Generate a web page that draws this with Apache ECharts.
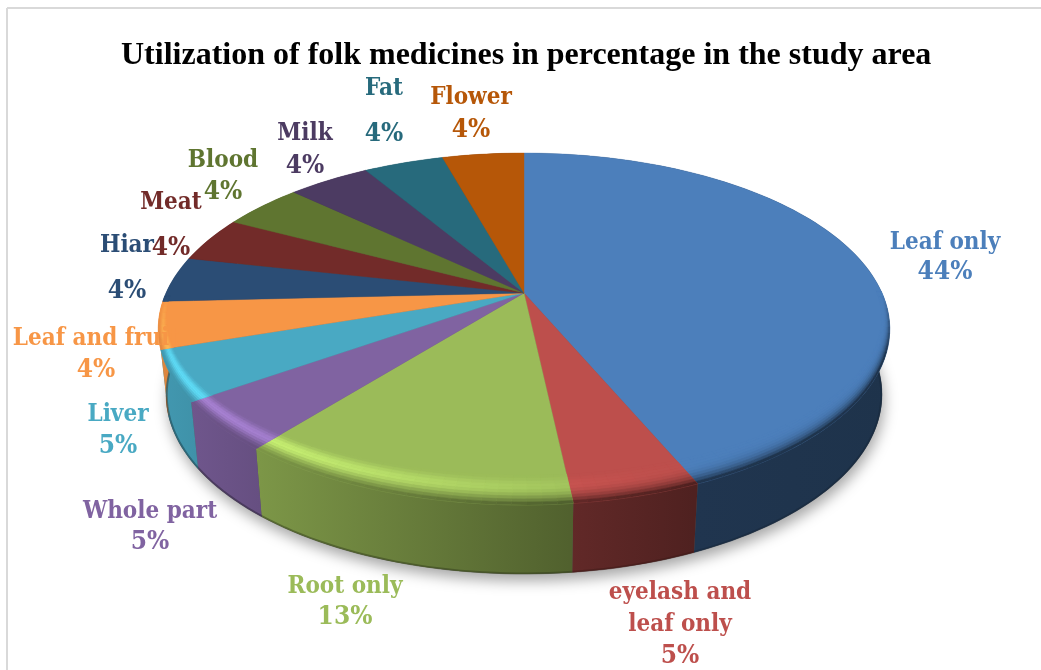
<!DOCTYPE html>
<html>
<head>
<meta charset="utf-8">
<title>Utilization of folk medicines</title>
<style>
html,body{margin:0;padding:0;background:#fff;}
#chart{width:1041px;height:670px;}
</style>
<script src="https://cdn.jsdelivr.net/npm/echarts@6/dist/echarts.min.js"></script>
</head>
<body>
<div id="chart"></div>
<script>
// values, the labels show them rounded
var categories = ['Leaf only','eyelash and\nleaf only','Root only','Whole part','Liver','Leaf and fruit','Hiar','Meat','Blood','Milk','Fat','Flower'];
var values = [43.6, 4.7, 12.6, 4.5, 4.6, 4.3, 4.2, 4.2, 4.3, 4.4, 4.3, 4.4];
var colors = ['#4c7fbb','#bd4f4c','#9bbb59','#8063a1','#49a9c3','#f79646','#2b4d75','#722b29','#5f7530','#4c3b62','#276a7c','#b65708'];

// where the source placed each data label: [x, name y, percent y]
var labelPos = [
    [945,243,272],[680,609,656],[345,587,617],[150,512,542],[118,415,446],[96,339,370],
    [127,246,291],[171,203,248],[223,161,192],[305,134,166],[384,89,134],[471,98,130]
];

var chart = echarts.init(document.getElementById('chart'));

// perspective of the disc: top face and (lower, a bit tighter) bottom face
var topFace = {cx:524, cy:293, a:168.6, b:358, p:0.2045};
var botFace = {cx:524, cy:357.8, a:172, b:350.5, p:0.2045};

var total = 0;
var starts = [];
for (var i = 0; i < values.length; i++) {
    starts.push(total);
    total += values[i];
}
function startDeg(i){ return starts[i] / total * 360; }
function endDeg(i){ return (starts[i] + values[i]) / total * 360; }

// deg is clockwise from the back of the disc
function project(face, deg, r){
    var t = deg * Math.PI / 180;
    var x = r * Math.sin(t), y = r * Math.cos(t);
    var d = 1 + face.p * y;
    return [face.cx + face.b * x / d, face.cy - face.a * y / d];
}
function arc(face, from, to, r){
    var pts = [];
    var n = Math.max(2, Math.ceil((to - from) / 1.5));
    for (var k = 0; k <= n; k++) {
        pts.push(project(face, from + (to - from) * k / n, r));
    }
    return pts;
}
function rgb(hex){
    return [parseInt(hex.substr(1,2),16), parseInt(hex.substr(3,2),16), parseInt(hex.substr(5,2),16)];
}
function mix(c, other, t){
    return [c[0]+(other[0]-c[0])*t, c[1]+(other[1]-c[1])*t, c[2]+(other[2]-c[2])*t];
}
function css(c){
    return 'rgb(' + Math.round(c[0]) + ',' + Math.round(c[1]) + ',' + Math.round(c[2]) + ')';
}
// the side wall gets darker from left to right
var wallStops = [[0,0.9],[0.137,0.8],[0.56,0.52],[0.73,0.42],[1,0.4]];
function wallFactor(pos){
    for (var k = 1; k < wallStops.length; k++) {
        if (pos <= wallStops[k][0]) {
            var a = wallStops[k-1], b = wallStops[k];
            return a[1] + (b[1]-a[1]) * (pos-a[0]) / (b[0]-a[0]);
        }
    }
    return 0.4;
}
var wallLeft = 160, wallRight = 891;

function renderWall(params){
    var i = params.dataIndex;
    var c = rgb(colors[i]);
    var from = startDeg(i), to = endDeg(i);
    var pts = arc(topFace, from, to, 1).concat(arc(botFace, from, to, 1).reverse());
    var stops = wallStops.map(function(s){
        return {offset:s[0], color:css(mix([0,0,0], c, s[1]))};
    });
    return {
        type:'group',
        children:[
            {type:'polygon', shape:{points:pts},
             style:{fill:{type:'linear', x:wallLeft, y:0, x2:wallRight, y2:0, global:true, colorStops:stops}}},
            {type:'polyline', shape:{points:arc(botFace, from, to, 0.998)},
             style:{fill:null, stroke:css(mix([0,0,0], c, 0.3)), lineWidth:2, opacity:0.45}}
        ]
    };
}

// rim band point: s runs from the inner side (0) to the edge (1), the band
// is wide at the front and narrow at the sides, and keeps to the slice rays
function rimPoint(deg, s){
    var back = Math.max(0, -Math.cos(deg * Math.PI / 180));
    var width = 0.015 + 0.1 * Math.pow(back, 1.5);
    return project(topFace, deg, 1 - width * (1 - s));
}

function renderTop(params){
    var i = params.dataIndex;
    var c = rgb(colors[i]);
    var from = startDeg(i), to = endDeg(i);
    var pts = [[topFace.cx, topFace.cy]].concat(arc(topFace, from, to, 1));
    var children = [{type:'polygon', shape:{points:pts}, style:{fill:colors[i], stroke:colors[i], lineWidth:0.4}}];

    var rings = 10, step = 2;
    var bright = [Math.min(255, c[0]*1.35), Math.min(255, c[1]*1.35), Math.min(255, c[2]*1.35)];
    var n = Math.max(1, Math.ceil((to - from) / step));
    for (var a = 0; a < n; a++) {
        var d0 = from + (to - from) * a / n, d1 = from + (to - from) * (a + 1) / n;
        var mid = (d0 + d1) / 2 * Math.PI / 180;
        var front = Math.min(1, Math.max(0, (0 - Math.cos(mid)) / 0.35));
        if (front <= 0) continue;
        var light = Math.max(0, Math.cos(mid - 235 * Math.PI / 180));
        light = light * light;
        var px = project(topFace, (d0 + d1) / 2, 1)[0];
        var f = wallFactor((px - wallLeft) / (wallRight - wallLeft));
        for (var k = 0; k < rings; k++) {
            var t = (k + 0.5) / rings;
            var s0 = k / rings, s1 = (k + 1) / rings;
            var col = mix(c, bright, 0.95 * light * Math.pow(Math.sin(Math.PI * Math.min(1, t * 1.05)), 2) * front);
            col = mix(col, mix([0,0,0], c, f), Math.pow(s1, 4) * front);
            var quad = [rimPoint(d0,s0), rimPoint(d1,s0), rimPoint(d1,s1), rimPoint(d0,s1)];
            children.push({type:'polygon', shape:{points:quad}, style:{fill:css(col), stroke:css(col), lineWidth:0.5}});
        }
    }
    return {type:'group', children:children};
}

var labelFont = '"DejaVu Serif Condensed","Liberation Serif",serif';
function renderLabel(params){
    var i = params.dataIndex;
    var pos = labelPos[i];
    function txt(s, y, size){
        return {type:'text', style:{text:s, x:pos[0], y:y, align:'center', verticalAlign:'middle',
            fontFamily:labelFont, fontWeight:'bold', fontSize:size, lineHeight:32, fill:colors[i]}};
    }
    return {type:'group', children:[txt(categories[i], pos[1], 24), txt(Math.round(values[i]) + '%', pos[2], 26)]};
}

function renderShadow(){
    return {type:'polygon', shape:{points:arc(botFace, 0, 360, 1)},
        style:{fill:'#555', shadowColor:'rgba(0,0,0,0.35)', shadowBlur:14, shadowOffsetY:7, shadowOffsetX:2}};
}

var option = {
    animation:false,
    backgroundColor:'#fff',
    title:{
        text:'Utilization of folk medicines in percentage in the study area',
        left:116, top:35,
        textStyle:{fontFamily:'"Liberation Serif",serif', fontWeight:'bold', fontSize:32, color:'#000'}
    },
    graphic:[
        {type:'line', shape:{x1:7, y1:8, x2:7, y2:670}, style:{stroke:'#d9d9d9', lineWidth:2}},
        {type:'line', shape:{x1:7, y1:8, x2:1041, y2:8}, style:{stroke:'#d9d9d9', lineWidth:2}}
    ],
    series:[
        {type:'custom', coordinateSystem:'none', silent:true, data:[0], renderItem:renderShadow, z:1},
        {type:'custom', coordinateSystem:'none', silent:true, data:values, renderItem:renderWall, z:2},
        {type:'custom', coordinateSystem:'none', silent:true, data:values, renderItem:renderTop, z:3},
        {type:'custom', coordinateSystem:'none', silent:true, data:values, renderItem:renderLabel, z:4}
    ]
};
chart.setOption(option);
</script>
</body>
</html>
